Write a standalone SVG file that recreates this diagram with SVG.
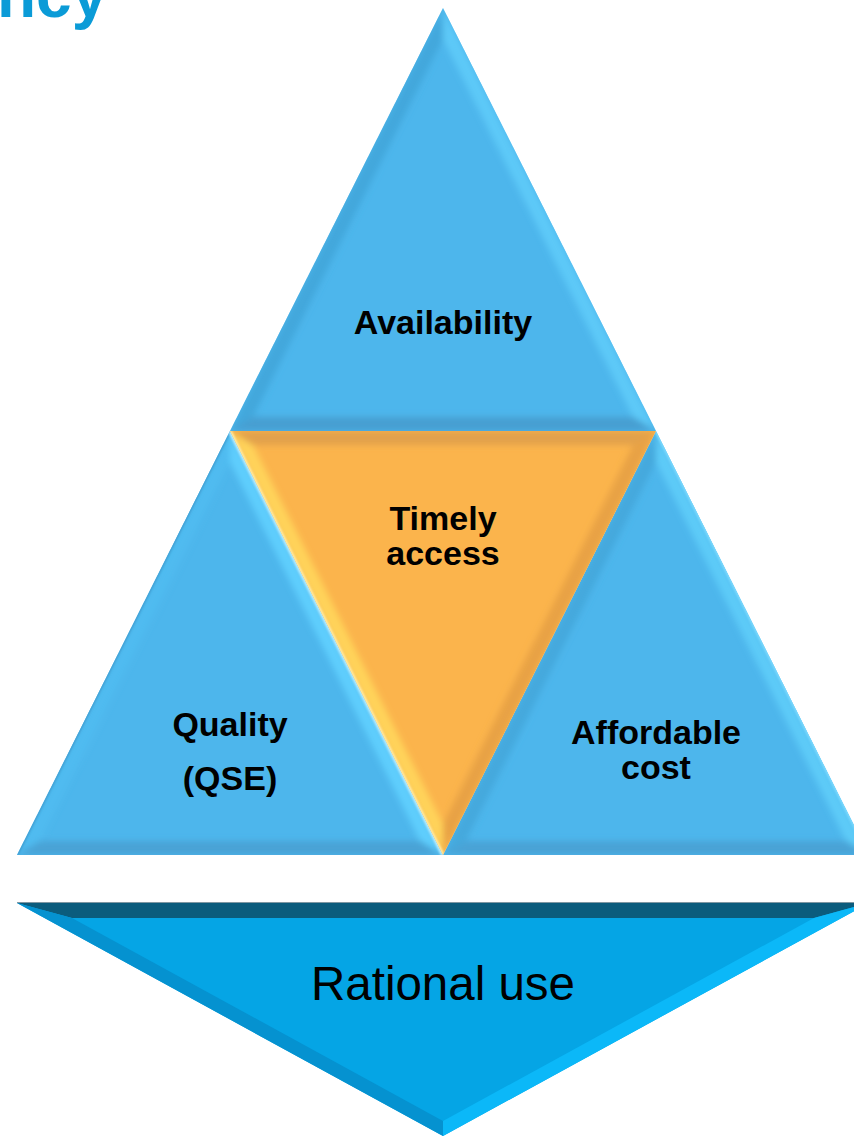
<svg xmlns="http://www.w3.org/2000/svg" width="854" height="1136" viewBox="0 0 854 1136">
  <style>
    .lbl { font-family: "Liberation Sans", Arial, sans-serif; font-weight: bold; font-size: 34px; fill: #000; text-anchor: middle; }
    .big { font-family: "Liberation Sans", Arial, sans-serif; font-size: 47.5px; fill: #000; text-anchor: middle; }
    .title { font-family: "Liberation Sans", Arial, sans-serif; font-weight: bold; font-size: 64px; fill: #0B9BD7; }
  </style>
  <defs>
    <filter id="soft" x="-10%" y="-10%" width="120%" height="120%">
      <feGaussianBlur stdDeviation="3"/>
    </filter>
    <filter id="edge" x="-10%" y="-10%" width="120%" height="120%">
      <feGaussianBlur stdDeviation="1.2"/>
    </filter>
    <clipPath id="clipTop"><polygon points="443,8 230,431 656,431"/></clipPath>
    <clipPath id="clipLeft"><polygon points="230,431 17,855 443,855"/></clipPath>
    <clipPath id="clipRight"><polygon points="656,431 443,855 869,855"/></clipPath>
    <clipPath id="clipMid"><polygon points="230,431 656,431 443,855"/></clipPath>
  </defs>

  <!-- heading fragment running off the top-left corner -->
  <text class="title" x="-3" y="17">ncy</text>

  <!-- upper triangle -->
  <g id="availability">
    <polygon points="443,8 230,431 656,431" fill="#4DB6EC"/>
    <g clip-path="url(#clipTop)">
      <g filter="url(#soft)">
        <polygon points="443,8 230,431 253,417 443,39" fill="#43A7DC"/>
        <polygon points="443,8 656,431 633,417 443,39" fill="#5DC9F8"/>
        <polygon points="230,431 656,431 633,417 253,417" fill="#479FD1"/>
      </g>
      <line x1="220" y1="430" x2="666" y2="430" stroke="#A6E6FF" stroke-width="3" filter="url(#edge)"/>
    </g>
    <text class="lbl" x="443" y="334">Availability</text>
  </g>

  <!-- lower-left triangle -->
  <g id="quality">
    <polygon points="230,431 17,855 443,855" fill="#4DB6EC"/>
    <g clip-path="url(#clipLeft)">
      <g filter="url(#soft)">
        <polygon points="230,431 17,855 40,841 230,462" fill="#50BBF0"/>
        <polygon points="230,431 443,855 420,841 230,462" fill="#5ECEFD"/>
        <polygon points="17,855 443,855 420,841 40,841" fill="#48A3D6"/>
      </g>
      <line x1="230" y1="431" x2="17" y2="855" stroke="#3B95C8" stroke-width="2" filter="url(#edge)"/>
      <line x1="230" y1="431" x2="443" y2="855" stroke="#B8ECFF" stroke-width="4" filter="url(#edge)"/>
      <line x1="10" y1="854" x2="450" y2="854" stroke="#A6E6FF" stroke-width="3" filter="url(#edge)"/>
    </g>
    <text class="lbl" x="230" y="736">Quality</text>
    <text class="lbl" x="230" y="790">(QSE)</text>
  </g>

  <!-- lower-right triangle -->
  <g id="affordable-cost">
    <polygon points="656,431 443,855 869,855" fill="#4DB6EC"/>
    <g clip-path="url(#clipRight)">
      <g filter="url(#soft)">
        <polygon points="656,431 443,855 466,841 656,462" fill="#45A9DD"/>
        <polygon points="656,431 869,855 846,841 656,462" fill="#5DCBF8"/>
        <polygon points="443,855 869,855 846,841 466,841" fill="#48A3D6"/>
      </g>
      <line x1="656" y1="431" x2="869" y2="855" stroke="#7FDCFF" stroke-width="3" filter="url(#edge)"/>
      <line x1="436" y1="854" x2="876" y2="854" stroke="#A6E6FF" stroke-width="3" filter="url(#edge)"/>
    </g>
    <text class="lbl" x="656" y="744">Affordable</text>
    <text class="lbl" x="656" y="779">cost</text>
  </g>

  <!-- central inverted triangle -->
  <g id="timely-access">
    <polygon points="230,431 656,431 443,855" fill="#FBB44C"/>
    <g clip-path="url(#clipMid)">
      <g filter="url(#soft)">
        <polygon points="230,431 443,855 443,824 253,445" fill="#FFD35A"/>
        <polygon points="656,431 443,855 443,824 633,445" fill="#E8A244"/>
        <polygon points="230,431 656,431 633,445 253,445" fill="#E2A14C"/>
      </g>
      <line x1="230" y1="433" x2="656" y2="433" stroke="#FFE79A" stroke-width="3" filter="url(#edge)"/>
      <line x1="230" y1="431" x2="443" y2="855" stroke="#FFF1B0" stroke-width="3" filter="url(#edge)"/>
    </g>
    <text class="lbl" x="443" y="530">Timely</text>
    <text class="lbl" x="443" y="565">access</text>
  </g>

  <!-- base arrow -->
  <g id="rational-use">
    <polygon points="17,903 869,903 443,1136" fill="#05A5E5"/>
    <polygon points="17,903 869,903 814,918 72,918" fill="#0B5C7D"/>
    <polygon points="17,903 72,918 443,1121 443,1136" fill="#0592D0"/>
    <polygon points="869,903 814,918 443,1121 443,1136" fill="#0BB8F8"/>
    <line x1="17" y1="902.5" x2="869" y2="902.5" stroke="#7F97A3" stroke-width="1.2"/>
    <text class="big" x="443" y="1000">Rational use</text>
  </g>
</svg>
